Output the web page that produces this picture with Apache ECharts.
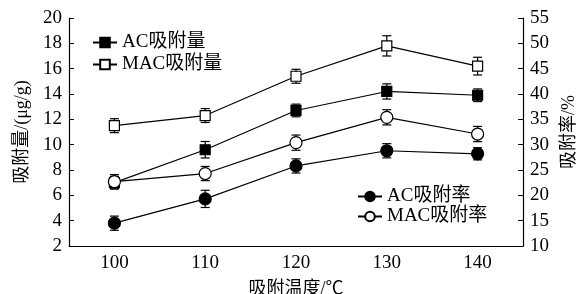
<!DOCTYPE html>
<html>
<head>
<meta charset="utf-8">
<script src="https://cdn.jsdelivr.net/npm/echarts@6/dist/echarts.min.js"></script>
<style>
  html, body { margin: 0; padding: 0; background: #fff; }
  #chart { width: 578px; height: 294px; }
</style>
</head>
<body>
<div id="chart"></div>
<script>
const temps = ["100", "110", "120", "130", "140"];

const acAmount = [7.0, 9.6, 12.7, 14.2, 13.9];
const acAmountErr = [0.5, 0.65, 0.5, 0.6, 0.5];
const macAmount = [11.5, 12.3, 15.4, 17.8, 16.2];
const macAmountErr = [0.55, 0.55, 0.55, 0.8, 0.7];

const acRate = [14.5, 19.3, 25.8, 28.8, 28.2];
const acRateErr = [1.4, 1.7, 1.4, 1.4, 1.2];
const macRate = [22.7, 24.3, 30.4, 35.4, 32.1];
const macRateErr = [1.4, 1.4, 1.5, 1.5, 1.5];

const leftTicks = { min: 2, max: 20, interval: 2 };
const rightTicks = { min: 10, max: 55, interval: 5 };

const FONT = "Liberation Serif, Noto Sans CJK SC";

function errData(vals, errs) {
  return vals.map((v, i) => [i, v - errs[i], v + errs[i]]);
}

function renderErr(params, api) {
  const x = api.value(0);
  const top = api.coord([x, api.value(2)]);
  const bot = api.coord([x, api.value(1)]);
  const w = 4.5;
  const style = { stroke: "#000", lineWidth: 1.2 };
  return {
    type: "group",
    children: [
      { type: "line", shape: { x1: top[0], y1: top[1], x2: bot[0], y2: bot[1] }, style },
      { type: "line", shape: { x1: top[0] - w, y1: top[1], x2: top[0] + w, y2: top[1] }, style },
      { type: "line", shape: { x1: bot[0] - w, y1: bot[1], x2: bot[0] + w, y2: bot[1] }, style }
    ]
  };
}

function lineSeries(name, data, yIdx, symbol, size, fill) {
  return {
    name, type: "line", yAxisIndex: yIdx, data,
    symbol, symbolSize: size, z: 3,
    lineStyle: { color: "#000", width: 1.2 },
    itemStyle: { color: fill, borderColor: "#000", borderWidth: 1.2 }
  };
}

function errSeries(vals, errs, yIdx) {
  return {
    type: "custom", yAxisIndex: yIdx, z: 2, silent: true,
    renderItem: renderErr, data: errData(vals, errs)
  };
}

const chart = echarts.init(document.getElementById("chart"));

const yCommon = {
  type: "value",
  nameLocation: "middle",
  nameTextStyle: { fontFamily: FONT, fontSize: 18, color: "#000" },
  axisLine: { show: true, lineStyle: { color: "#000", width: 1.2 } },
  axisTick: { show: true, inside: true, length: 5, lineStyle: { color: "#000" } },
  axisLabel: { fontFamily: FONT, fontSize: 19, color: "#000", margin: 7 },
  splitLine: { show: false }
};

chart.setOption({
  animation: false,
  grid: { left: 69, right: 55, top: 18, bottom: 48, outerBoundsMode: "none" },
  legend: [
    {
      data: ["AC吸附量", "MAC吸附量"],
      orient: "vertical", left: 87, top: 28,
      itemWidth: 24, itemHeight: 12, itemGap: 3,
      textStyle: { fontFamily: FONT, fontSize: 19, color: "#000" }
    },
    {
      data: ["AC吸附率", "MAC吸附率"],
      orient: "vertical", left: 352, top: 182,
      itemWidth: 24, itemHeight: 12, itemGap: 1,
      textStyle: { fontFamily: FONT, fontSize: 19, color: "#000" }
    }
  ],
  xAxis: {
    type: "category",
    data: temps,
    name: "吸附温度/℃",
    nameLocation: "middle",
    nameGap: 34,
    nameTextStyle: { fontFamily: FONT, fontSize: 18, color: "#000" },
    axisLine: { lineStyle: { color: "#000", width: 1.2 } },
    axisTick: { inside: true, length: 5, lineStyle: { color: "#000" } },
    axisLabel: { fontFamily: FONT, fontSize: 19, color: "#000", margin: 8 }
  },
  yAxis: [
    Object.assign({}, yCommon, leftTicks, { name: "吸附量/(μg/g)", nameGap: 38 }),
    Object.assign({}, yCommon, rightTicks, { name: "吸附率/%", nameGap: 37, nameRotate: 90, position: "right" })
  ],
  series: [
    errSeries(acAmount, acAmountErr, 0),
    errSeries(macAmount, macAmountErr, 0),
    errSeries(acRate, acRateErr, 1),
    errSeries(macRate, macRateErr, 1),
    lineSeries("AC吸附量", acAmount, 0, "rect", 10, "#000"),
    lineSeries("MAC吸附量", macAmount, 0, "rect", 10, "#fff"),
    lineSeries("AC吸附率", acRate, 1, "circle", 12, "#000"),
    lineSeries("MAC吸附率", macRate, 1, "circle", 12, "#fff")
  ]
});
</script>
</body>
</html>
